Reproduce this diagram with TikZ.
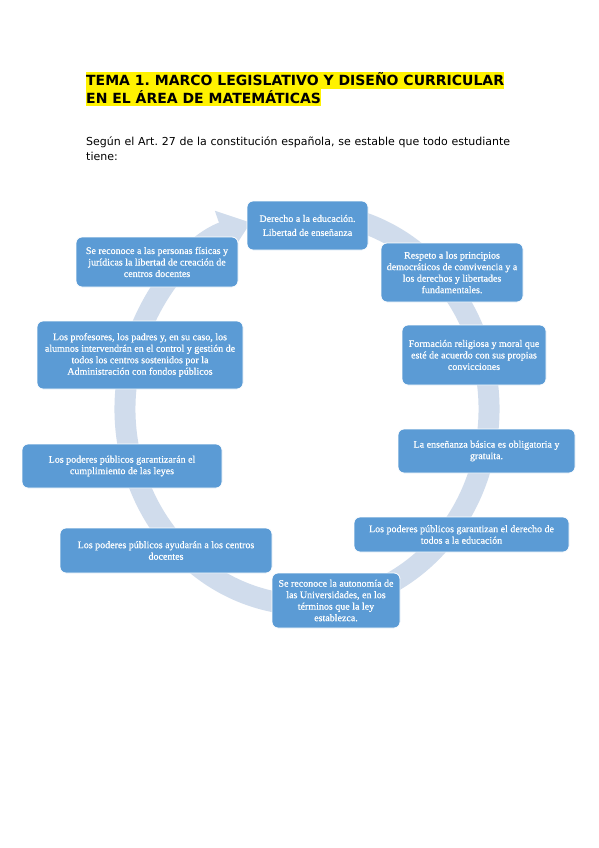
\documentclass[tikz,border=0pt]{standalone}
\usepackage{fontspec}
\newfontfamily\titlefont{DejaVu Sans}
\newfontfamily\boxfont[FakeBold=0.6]{Liberation Serif}
\usetikzlibrary{arrows.meta,calc}
\definecolor{boxblue}{HTML}{5B9BD5}
\definecolor{ringblue}{HTML}{D0DCEC}
\frenchspacing
\tikzset{
	artbox/.style={draw=white, line width=0.8pt, fill=boxblue, rounded corners=6pt,
		text=white, align=center, inner sep=2pt,
		font=\boxfont\fontsize{10}{11.5}\selectfont},
	hilite/.style={fill=yellow, anchor=base west, inner xsep=0pt, inner ysep=0pt,
		text height=13.5pt, text depth=3pt,
		font=\titlefont\bfseries\fontsize{14}{17}\selectfont},
	introtext/.style={anchor=base west, inner sep=0pt,
		font=\titlefont\fontsize{11}{14}\selectfont},
	cyclearrow/.style={draw=ringblue, line width=21pt, -{Triangle[length=30pt,width=44pt]}},
}
\begin{document}
\begin{tikzpicture}[x=1pt,y=-1pt]
\useasboundingbox[fill=white] (0,0) rectangle (599,848);

%Title
\node[hilite] (title1) at (86,86) {TEMA 1. MARCO LEGISLATIVO Y DISEÑO CURRICULAR};
\node[hilite] (title2) at (86,103) {EN EL ÁREA DE MATEMÁTICAS};

%Intro
\node[introtext] (intro1) at (86,146) {\makebox[424pt][s]{Según el Art. 27 de la constitución española, se estable que todo estudiante}};
\node[introtext] (intro2) at (86,160) {tiene:};

%Cycle arrow
\coordinate (ringc) at (307,409);
\draw[cyclearrow] ($(ringc)+(-75:182 and 196)$) arc[start angle=-75, end angle=252, x radius=182, y radius=196];

%Boxes, clockwise from the top
\node[artbox, minimum width=121pt, minimum height=49pt] (derecho) at (307.5,225.5) {Derecho a la educación.\\[2.5pt]Libertad de enseñanza};
\node[artbox, minimum width=142pt, minimum height=59pt] (respeto) at (452,272.5) {Respeto a los principios\\democráticos de convivencia y a\\los derechos y libertades\\fundamentales.};
\node[artbox, minimum width=144pt, minimum height=60pt] (religion) at (474,355) {Formación religiosa y moral que\\esté de acuerdo con sus propias\\convicciones};
\node[artbox, minimum width=177pt, minimum height=44pt] (basica) at (486.5,451) {La enseñanza básica es obligatoria y\\gratuita.};
\node[artbox, minimum width=215pt, minimum height=35pt] (garantia) at (461.5,534.5) {Los poderes públicos garantizan el derecho de\\todos a la educación};
\node[artbox, minimum width=128pt, minimum height=55pt] (autonomia) at (336,600.5) {Se reconoce la autonomía de\\las Universidades, en los\\términos que la ley\\establezca.};
\node[artbox, minimum width=212pt, minimum height=45pt] (ayuda) at (166,550.5) {Los poderes públicos ayudarán a los centros\\docentes};
\node[artbox, minimum width=200pt, minimum height=44pt] (leyes) at (122,466) {Los poderes públicos garantizarán el\\cumplimiento de las leyes};
\node[artbox, minimum width=206pt, minimum height=68pt] (gestion) at (140,355) {Los profesores, los padres y, en su caso, los\\alumnos intervendrán en el control y gestión de\\todos los centros sostenidos por la\\Administración con fondos públicos};
\node[artbox, minimum width=162pt, minimum height=50pt] (creacion) at (157,262) {Se reconoce a las personas físicas y\\jurídicas la libertad de creación de\\centros docentes};

\end{tikzpicture}
\end{document}
